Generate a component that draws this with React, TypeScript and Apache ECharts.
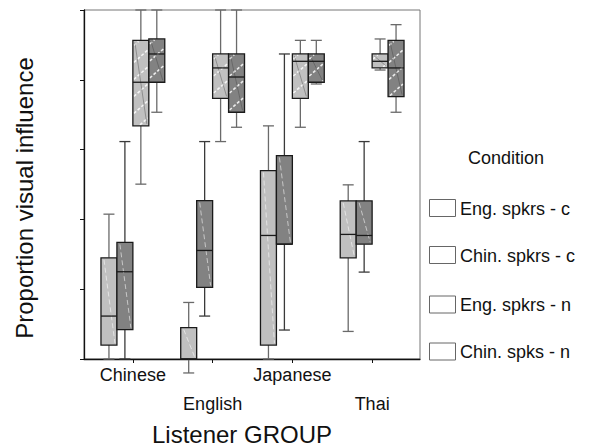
import React, { useEffect, useRef } from 'react';
import * as echarts from 'echarts';

const categories = ['Chinese', 'English', 'Japanese', 'Thai'];
const conditions = ['Eng. spkrs - c', 'Chin. spkrs - c', 'Eng. spkrs - n', 'Chin. spks - n'];
const yTicks = [0, 0.2, 0.4, 0.6, 0.8, 1.0];

// [min, Q1, median, Q3, max] for each listener group
const engC = [
  [0, 0.040, 0.123, 0.290, 0.415],
  [-0.04, 0, 0, 0.090, 0.162],
  [0, 0.040, 0.354, 0.540, 0.668],
  [0.079, 0.290, 0.357, 0.453, 0.499],
];
const chinC = [
  [0, 0.084, 0.250, 0.334, 0.623],
  [0.123, 0.205, 0.311, 0.454, 0.623],
  [0.083, 0.329, 0.329, 0.583, 0.874],
  [0.249, 0.329, 0.354, 0.453, 0.623],
];
const engN = [
  [0.501, 0.668, 0.793, 0.913, 1.0],
  [0.623, 0.747, 0.834, 0.874, 1.0],
  [0.664, 0.747, 0.853, 0.874, 0.913],
  [0.828, 0.834, 0.853, 0.874, 0.917],
];
const chinN = [
  [0.707, 0.793, 0.874, 0.917, 1.0],
  [0.664, 0.707, 0.808, 0.874, 1.0],
  [0.788, 0.793, 0.853, 0.874, 0.913],
  [0.707, 0.752, 0.834, 0.913, 0.958],
];

const FONT = '"Liberation Sans", Arial, Helvetica, sans-serif';
const LIGHT = '#c0c0c0';
const DARK = '#828282';

function ln(x1: number, y1: number, x2: number, y2: number, style: any) {
  return { type: 'line', shape: { x1, y1, x2, y2 }, style };
}

function makeRender(slot: number, fill: string, hatched: boolean, whisker: string) {
  return (params: any, api: any) => {
    const cat = api.value(0);
    const yOf = (v: number) => api.coord([cat, v])[1];
    const cx0 = api.coord([cat, 0])[0];
    const band = api.size([1, 0])[0];
    const bw = band * 0.2;
    const x1 = cx0 + (slot - 2) * bw;
    const x2 = x1 + bw;
    const xc = (x1 + x2) / 2;
    const yMin = yOf(api.value(1));
    const yQ1 = yOf(api.value(2));
    const yMed = yOf(api.value(3));
    const yQ3 = yOf(api.value(4));
    const yMax = yOf(api.value(5));
    const cap = 5.5;
    const ws = { stroke: whisker, lineWidth: 1.3 };
    const children: any[] = [
      ln(xc, yQ3, xc, yMax, ws),
      ln(xc - cap, yMax, xc + cap, yMax, ws),
      ln(xc, yQ1, xc, yMin, ws),
      ln(xc - cap, yMin, xc + cap, yMin, ws),
      {
        type: 'rect',
        shape: { x: x1, y: yQ3, width: bw, height: yQ1 - yQ3 },
        style: { fill, stroke: 'none' },
      },
    ];
    const h = yQ1 - yQ3;
    if (h > 3) {
      if (hatched) {
        const k = 0.9;
        for (let c = yQ3 + 6; c < yQ1 + k * bw; c += 17) {
          let sx = x1, sy = c;
          let ex = x2, ey = c - k * bw;
          if (sy > yQ1) { sx = x1 + (sy - yQ1) / k; sy = yQ1; }
          if (ey < yQ3) { ex = x1 + (c - yQ3) / k; ey = yQ3; }
          if (ex - sx > 1) {
            children.push(ln(sx + 1, sy - 1, ex - 1, ey + 1, {
              stroke: 'rgba(255,255,255,0.85)', lineWidth: 1.6, lineDash: [3, 2],
            }));
          }
        }
        children.push(ln(x1 + 2, yQ3 + 2, x2 - 2, yQ1 - 2, { stroke: 'rgba(60,60,60,0.55)', lineWidth: 0.7 }));
      } else {
        children.push(ln(x1 + 3, yQ3 + 2, x2 - 2, yQ1 - 2, {
          stroke: 'rgba(255,255,255,0.55)', lineWidth: 1, lineDash: [5, 3],
        }));
      }
    }
    children.push({
      type: 'rect',
      shape: { x: x1, y: yQ3, width: bw, height: yQ1 - yQ3 },
      style: { fill: 'none', stroke: '#1a1a1a', lineWidth: 1.3 },
    });
    children.push(ln(x1, yMed, x2, yMed, { stroke: '#1a1a1a', lineWidth: 1.3 }));
    return { type: 'group', children };
  };
}

const seriesDefs = [
  { name: conditions[0], data: engC, fill: LIGHT, hatched: false, whisker: '#6a6a6a' },
  { name: conditions[1], data: chinC, fill: DARK, hatched: false, whisker: '#3a3a3a' },
  { name: conditions[2], data: engN, fill: LIGHT, hatched: true, whisker: '#6a6a6a' },
  { name: conditions[3], data: chinN, fill: DARK, hatched: true, whisker: '#6a6a6a' },
];

const legendTops = [199.5, 246.5, 296, 343];

export default function App() {
  const ref = useRef<HTMLDivElement>(null);
  useEffect(() => {
    if (!ref.current) return;
    const chart = echarts.init(ref.current, undefined, { renderer: 'svg' });
    const series = seriesDefs.map((s, i) => ({
      type: 'custom',
      name: s.name,
      xAxisIndex: 1,
      yAxisIndex: 1,
      clip: false,
      silent: true,
      encode: { x: 0, y: [1, 2, 3, 4, 5] },
      renderItem: makeRender(i, s.fill, s.hatched, s.whisker),
      data: s.data.map((d, ci) => [ci, ...d]),
    }));
    const graphic: any[] = [
      {
        type: 'text',
        x: 24,
        y: 198,
        rotation: Math.PI / 2,
        style: {
          text: 'Proportion visual influence',
          font: `24px ${FONT}`,
          fill: '#111',
          align: 'center',
          verticalAlign: 'middle',
          textAlign: 'center',
          textVerticalAlign: 'middle',
        },
      },
      {
        type: 'text',
        x: 242,
        y: 434,
        style: {
          text: 'Listener GROUP',
          font: `24px ${FONT}`,
          fill: '#111',
          align: 'center',
          verticalAlign: 'middle',
          textAlign: 'center',
          textVerticalAlign: 'middle',
        },
      },
      {
        type: 'text',
        x: 506,
        y: 158,
        style: {
          text: 'Condition',
          font: `18px ${FONT}`,
          fill: '#111',
          align: 'center',
          verticalAlign: 'middle',
          textAlign: 'center',
          textVerticalAlign: 'middle',
        },
      },
    ];
    conditions.forEach((c, i) => {
      graphic.push({
        type: 'rect',
        shape: { x: 429.5, y: legendTops[i], width: 26, height: 17 },
        style: { fill: '#fff', stroke: '#666', lineWidth: 1 },
      });
      graphic.push({
        type: 'text',
        x: 460,
        y: legendTops[i] + 9,
        style: {
          text: c,
          font: `18px ${FONT}`,
          fill: '#111',
          align: 'left',
          verticalAlign: 'middle',
          textAlign: 'left',
          textVerticalAlign: 'middle',
        },
      });
    });
    chart.setOption({
      animation: false,
      backgroundColor: '#fff',
      grid: [
        { left: 84, right: 171, top: 10, bottom: 87, show: true, borderColor: '#777', borderWidth: 1, backgroundColor: 'transparent' },
        { left: 93, right: 179, top: 10, bottom: 87 },
      ],
      xAxis: [
        {
          gridIndex: 0,
          type: 'value',
          min: 0,
          max: 1,
          axisLine: { show: true, lineStyle: { color: '#111', width: 1.3 } },
          axisTick: { show: false },
          axisLabel: { show: false },
          splitLine: { show: false },
        },
        {
          gridIndex: 1,
          type: 'category',
          data: categories,
          axisLine: { show: false },
          axisTick: { show: true, alignWithLabel: true, length: 4, lineStyle: { color: '#111' } },
          axisLabel: {
            interval: 0,
            margin: 1,
            fontSize: 18,
            fontFamily: FONT,
            color: '#111',
            lineHeight: 29,
            formatter: (v: string, idx: number) => (idx % 2 === 1 ? '\n' + v : v),
          },
          splitLine: { show: false },
        },
      ],
      yAxis: [
        {
          gridIndex: 0,
          type: 'value',
          min: yTicks[0],
          max: yTicks[yTicks.length - 1],
          interval: 0.2,
          axisLine: { show: true, lineStyle: { color: '#111', width: 1.3 } },
          axisTick: { show: true, length: 4, lineStyle: { color: '#111' } },
          axisLabel: { show: false },
          splitLine: { show: false },
        },
        {
          gridIndex: 1,
          type: 'value',
          min: yTicks[0],
          max: yTicks[yTicks.length - 1],
          show: false,
          splitLine: { show: false },
        },
      ],
      series,
      graphic,
    });
    return () => chart.dispose();
  }, []);
  return (
    <div
      ref={ref}
      style={{ position: 'fixed', left: 0, top: 0, width: 591, height: 446, background: '#fff' }}
    />
  );
}
